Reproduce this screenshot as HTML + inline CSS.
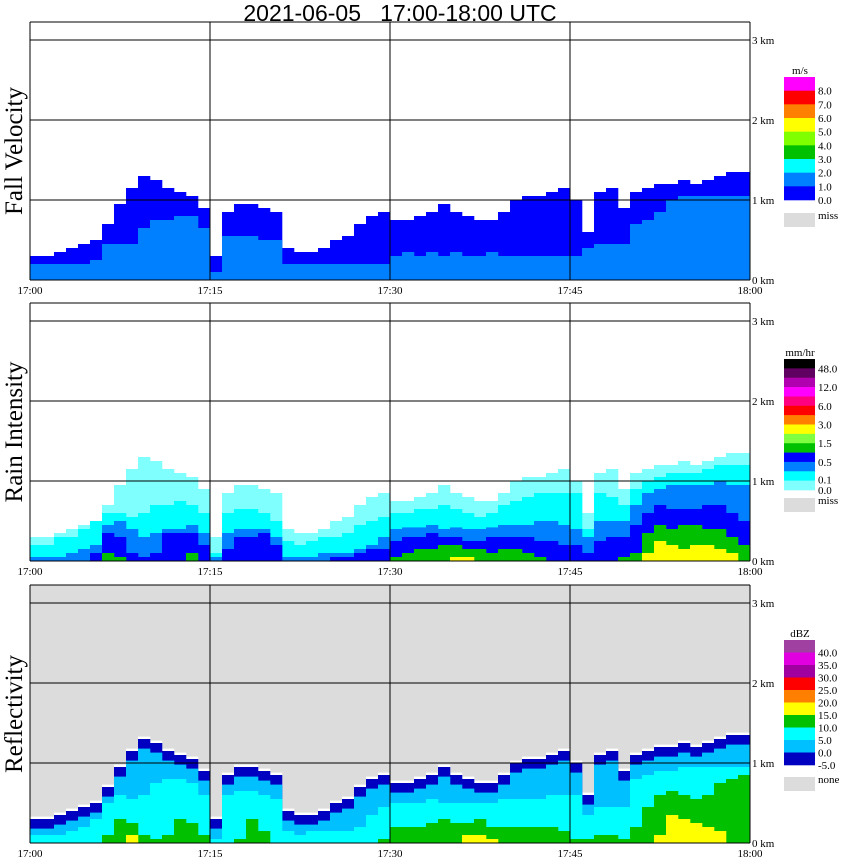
<!DOCTYPE html>
<html><head><meta charset="utf-8"><style>
body{margin:0;background:#fff;width:850px;height:868px;overflow:hidden}
svg{display:block}
text{font-family:"Liberation Serif",serif}
</style></head><body>
<svg id="chart" width="850" height="868">
<text x="400" y="21" text-anchor="middle" font-size="23" style="font-family:'Liberation Sans',sans-serif;white-space:pre" xml:space="preserve">2021-06-05   17:00-18:00 UTC</text>
</svg>
<script>
const timeLabels=["17:00","17:15","17:30","17:45","18:00"];
const kmTicks=[0,1,2,3];
const topKm=[0.3,0.3,0.35,0.4,0.45,0.5,0.7,0.95,1.15,1.3,1.25,1.15,1.1,1.05,0.9,0.3,0.85,0.95,0.95,0.9,0.85,0.4,0.35,0.35,0.4,0.5,0.55,0.7,0.8,0.85,0.75,0.75,0.8,0.85,0.95,0.85,0.8,0.75,0.75,0.85,1.0,1.05,1.05,1.1,1.15,1.0,0.6,1.1,1.15,0.9,1.1,1.15,1.2,1.2,1.25,1.2,1.25,1.3,1.35,1.35];
const velLight=[0.2,0.2,0.2,0.2,0.2,0.25,0.45,0.45,0.45,0.65,0.75,0.75,0.8,0.8,0.65,0.1,0.55,0.55,0.55,0.5,0.5,0.2,0.2,0.2,0.2,0.2,0.2,0.2,0.2,0.2,0.3,0.35,0.3,0.35,0.3,0.35,0.3,0.3,0.35,0.3,0.3,0.3,0.3,0.3,0.3,0.3,0.4,0.45,0.45,0.45,0.7,0.75,0.85,1.0,1.05,1.05,1.05,1.05,1.05,1.05];
const rainCyan=[0.2,0.2,0.3,0.3,0.4,0.5,0.6,0.6,0.55,0.6,0.7,0.7,0.75,0.7,0.6,0.1,0.6,0.65,0.65,0.6,0.5,0.25,0.2,0.25,0.3,0.3,0.35,0.45,0.5,0.55,0.6,0.6,0.65,0.65,0.7,0.65,0.6,0.55,0.6,0.7,0.75,0.8,0.85,0.85,0.85,0.85,0.4,0.85,0.8,0.7,0.9,1.0,1.05,1.1,1.1,1.1,1.15,1.2,1.2,1.2];
const rainMid=[0.05,0.05,0.05,0.1,0.15,0.2,0.45,0.5,0.4,0.3,0.35,0.4,0.4,0.45,0.35,0.05,0.35,0.4,0.4,0.4,0.3,0.05,0.05,0.05,0.1,0.1,0.1,0.15,0.2,0.3,0.4,0.42,0.42,0.45,0.4,0.42,0.4,0.4,0.42,0.45,0.45,0.45,0.5,0.5,0.45,0.4,0.3,0.5,0.5,0.5,0.7,0.85,0.9,0.95,0.95,0.95,0.95,1.0,0.95,0.95];
const rainDark=[0,0,0,0,0,0.1,0.35,0.3,0.1,0.05,0.1,0.35,0.35,0.35,0.2,0,0.15,0.3,0.3,0.35,0.2,0,0,0,0,0.05,0.05,0.1,0.15,0.15,0.25,0.3,0.3,0.35,0.3,0.3,0.25,0.25,0.3,0.3,0.3,0.3,0.25,0.25,0.2,0.2,0.1,0.25,0.3,0.3,0.45,0.6,0.7,0.65,0.65,0.65,0.7,0.7,0.6,0.5];
const rainGreen=[0,0,0,0,0,0,0.1,0.05,0,0,0,0,0,0.1,0,0,0,0,0,0,0,0,0,0,0,0,0,0,0,0,0.05,0.1,0.15,0.15,0.2,0.2,0.15,0.15,0.1,0.15,0.15,0.1,0.05,0,0,0,0,0,0,0.05,0.1,0.35,0.45,0.4,0.45,0.45,0.4,0.4,0.3,0.2];
const rainYellow=[0,0,0,0,0,0,0,0,0,0,0,0,0,0,0,0,0,0,0,0,0,0,0,0,0,0,0,0,0,0,0,0,0,0,0,0.05,0.05,0,0,0,0,0,0,0,0,0,0,0,0,0,0,0.1,0.25,0.2,0.15,0.2,0.2,0.15,0.1,0];
const refCyan=[0.1,0.1,0.1,0.15,0.2,0.3,0.5,0.6,0.55,0.6,0.75,0.8,0.8,0.75,0.6,0.05,0.6,0.65,0.65,0.6,0.55,0.15,0.1,0.15,0.15,0.15,0.15,0.2,0.35,0.45,0.5,0.5,0.5,0.55,0.5,0.5,0.5,0.5,0.5,0.55,0.55,0.55,0.55,0.6,0.6,0.6,0.35,0.45,0.45,0.45,0.8,0.85,0.9,0.9,0.95,0.95,0.95,0.95,0.95,0.95];
const refGreen=[0,0,0,0,0,0,0.1,0.3,0.25,0.1,0.05,0.1,0.3,0.25,0.1,0,0,0.05,0.3,0.15,0,0,0,0,0,0,0,0,0,0.05,0.2,0.2,0.2,0.25,0.3,0.25,0.25,0.3,0.2,0.2,0.2,0.2,0.2,0.2,0.15,0.05,0.05,0.1,0.1,0.05,0.2,0.45,0.6,0.65,0.6,0.55,0.6,0.75,0.8,0.85];
const refYellow=[0,0,0,0,0,0,0,0,0.1,0,0,0,0,0,0,0,0,0,0,0,0,0,0,0,0,0,0,0,0,0,0,0,0,0,0,0,0.1,0.1,0.05,0,0,0,0,0,0,0,0,0,0,0,0,0,0.1,0.35,0.3,0.25,0.2,0.15,0,0];
const velLegend=["8.0","7.0","6.0","5.0","4.0","3.0","2.0","1.0","0.0"];
const velColors=["#ff00ff","#ff0000","#ff8000","#ffff00","#80ff00","#00c000","#00ffff","#0080ff","#0000ff"];
const rainLegend=["48.0","12.0","6.0","3.0","1.5","0.5","0.1","0.0"];
const rainColors=["#000000","#600060","#b000b0","#ff00ff","#ff0080","#ff0000","#ff8000","#ffff00","#80ff40","#00c000","#0000ff","#0080ff","#00ffff","#80ffff"];
const refLegend=["40.0","35.0","30.0","25.0","20.0","15.0","10.0","5.0","0.0","-5.0"];
const refColors=["#a040a0","#e000e0","#a000a0","#ff0000","#ff8000","#ffff00","#00c000","#00ffff","#00c0ff","#0000c0"];

const svg=document.getElementById('chart');
const NS='http://www.w3.org/2000/svg';
const X0=30,X1=750,N=topKm.length;
function xMin(i){return X0+(X1-X0)*i/N;}
function xTick(k){return X0+(X1-X0)*k/(timeLabels.length-1);}
function mk(tag,attrs,parent){const e=document.createElementNS(NS,tag);for(const k in attrs)e.setAttribute(k,attrs[k]);(parent||svg).appendChild(e);return e;}
const panels=[
 {top:22,base:280,title:"Fall Velocity",bg:"#fff",unit:"m/s",lg:velLegend,lc:velColors,lTop:77,lBot:200,miss:"miss",mTop:213},
 {top:303,base:561,title:"Rain Intensity",bg:"#fff",unit:"mm/hr",lg:rainLegend,lc:rainColors,lTop:359,lBot:490,miss:"miss",mTop:498},
 {top:585,base:843,title:"Reflectivity",bg:"#dcdcdc",unit:"dBZ",lg:refLegend,lc:refColors,lTop:640,lBot:765,miss:"none",mTop:777}
];
panels.forEach((p,pi)=>{
 const g=mk('g',{});
 
 
 mk('rect',{x:X0,y:p.top,width:X1-X0,height:p.base-p.top,fill:p.bg},g);
 const yK=km=>p.base-80*km;
 function layer(arr,color,name){
  for(let i=0;i<N;i++){const h=(typeof arr==='function')?arr(i):arr[i];if(h<=0)continue;
   const r=mk('rect',{x:xMin(i),y:yK(h),width:(X1-X0)/N+0.3,height:p.base-yK(h),fill:color},g);
   
   }
 }
 if(pi===0){layer(topKm,'#0000ff','velocity-echo');layer(velLight,'#0080ff','velocity-fast');}
 if(pi===1){layer(topKm,'#80ffff','rain-light');layer(rainCyan,'#00ffff','rain-cyan');layer(rainMid,'#0080ff','rain-moderate');layer(rainDark,'#0000ff','rain-blue');layer(rainGreen,'#00c000','rain-green');layer(rainYellow,'#ffff00','rain-yellow');}
 if(pi===2){layer(i=>topKm[i]+0.03,'#ffffff','refl-edge');layer(topKm,'#0000c0','refl-low');layer(i=>Math.max(0,topKm[i]-0.12),'#00c0ff','refl-sky');layer(refCyan,'#00ffff','refl-cyan');layer(refGreen,'#00c000','refl-green');layer(refYellow,'#ffff00','refl-yellow');}
 kmTicks.forEach(k=>{const y=yK(k);mk('line',{x1:X0,x2:X1,y1:y,y2:y,stroke:'#000','stroke-width':1},g);
  const t=mk('text',{x:752,y:y+4,'font-size':11},g);t.textContent=k+' km';
  
  });
 timeLabels.forEach((lb,k)=>{const x=xTick(k);mk('line',{x1:x,x2:x,y1:p.top,y2:p.base,stroke:'#000','stroke-width':1},g);
  const t=mk('text',{x:x,y:p.base+14,'font-size':11,'text-anchor':'middle'},g);t.textContent=lb;
  
  });
 mk('line',{x1:X0,x2:X1,y1:p.top,y2:p.top,stroke:'#000'},g);
 const tt=mk('text',{x:0,y:0,'font-size':25,'text-anchor':'middle',transform:`translate(22,${(p.top+p.base)/2}) rotate(-90)`},g);
 tt.textContent=p.title;
 
 
 const lgG=mk('g',{},g);
 
 
 const u=mk('text',{x:800,y:p.lTop-3,'font-size':11,'text-anchor':'middle'},lgG);u.textContent=p.unit;
 const n=p.lc.length,bh=(p.lBot-p.lTop)/n;
 p.lc.forEach((c,i)=>mk('rect',{x:784,y:p.lTop+i*bh,width:31,height:bh+0.3,fill:c},lgG));
 p.lg.forEach((s,i)=>{
  const yy=pi===1?p.lTop+bh*[1,3,5,7,9,11,12.9,14][i]+4:p.lTop+bh*(i+1)+4;
  const t=mk('text',{x:818,y:yy,'font-size':11},lgG);t.textContent=s;});
 mk('rect',{x:784,y:p.mTop,width:31,height:14,fill:'#dcdcdc'},lgG);
 const mt=mk('text',{x:818,y:p.mTop+6,'font-size':11},lgG);mt.textContent=p.miss;
});
</script>
</body></html>
